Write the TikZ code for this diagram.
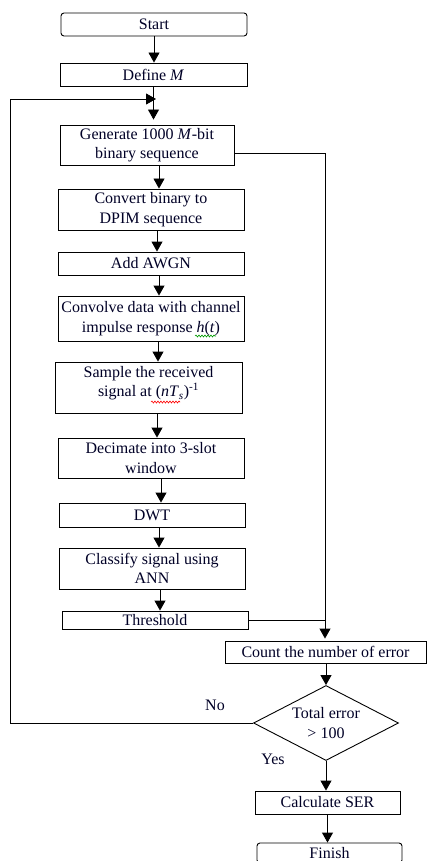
\documentclass[tikz,border=0pt]{standalone}
\usepackage{fontspec}
\setmainfont{Liberation Serif}
\usetikzlibrary{arrows.meta,shapes.geometric,decorations.pathmorphing}
\begin{document}
\begin{tikzpicture}[x=1pt,y=1pt,
  txt/.style={font=\fontsize{16}{19.5}\selectfont, text=black!85!blue},
  box/.style={draw, line width=0.9pt, inner sep=0pt, align=center, txt},
  rbox/.style={box, rounded corners=3pt},
  arr/.style={-{Triangle[width=11pt,length=10pt]}, line width=0.9pt},
  ln/.style={line width=0.9pt},
  lbl/.style={txt, inner sep=0pt},
  wave/.style={line width=0.6pt, decorate, decoration={snake, amplitude=1pt, segment length=3pt}}]
\useasboundingbox (0,0) rectangle (427,-861);
\node[rbox, minimum width=186, minimum height=23] (start) at (154,-24.5) {Start};
\node[box, minimum width=187, minimum height=23] (define) at (153.5,-74.5) {Define \textit{M}};
\node[box, minimum width=174, minimum height=40] (gen) at (147,-145) {Generate 1000 \textit{M}-bit\\binary sequence};
\node[box, minimum width=186, minimum height=41] (conv) at (151,-209.5) {Convert binary to\\DPIM sequence};
\node[box, minimum width=186, minimum height=23] (awgn) at (151,-263.5) {Add AWGN};
\node[box, minimum width=186, minimum height=45] (convolve) at (151,-318.5) {Convolve data with channel\\impulse response \textit{h}(\textit{t})};
\node[box, minimum width=187, minimum height=51] (sample) at (148.5,-387.5) {};
\node[lbl, align=center] (sampletxt) at (148.5,-383) {Sample the received\\signal at (\textit{nT}\textsubscript{\textit{s}})\textsuperscript{-1}};
\node[box, minimum width=186, minimum height=40] (decim) at (151,-458) {Decimate into 3-slot\\window};
\node[box, minimum width=186, minimum height=24] (dwt) at (152,-515) {DWT};
\node[box, minimum width=186, minimum height=41] (classify) at (152,-568.5) {Classify signal using\\ANN};
\node[box, minimum width=186, minimum height=18] (thresh) at (155,-620) {Threshold};
\node[box, minimum width=201, minimum height=22] (count) at (325.5,-652) {Count the number of error};
\node[draw, diamond, aspect=1.93, line width=0.9pt, inner sep=0pt, minimum width=145, minimum height=75, align=center, txt] (dia) at (326,-723) {Total error\\> 100};
\node[box, minimum width=145, minimum height=23] (calc) at (327.5,-802.5) {Calculate SER};
\node[rbox, minimum width=145, minimum height=20] (finish) at (329.5,-853) {Finish};
\node[lbl] (no) at (215,-705) {No};
\node[lbl] (yes) at (273,-759) {Yes};
% spell-check squiggles
\draw[wave, green!60!black] (195,-336) -- (216,-336);
\draw[wave, red] (151,-402) -- (180,-402);
% connectors
\draw[arr] (start.south) -- (start.south |- define.north);
\draw[arr, shorten >=5pt] (define.south) -- (define.south |- gen.north);
\coordinate (jn) at (156,-99);
\coordinate (lp) at (10,-723);
\draw[arr] (dia.west) -- (lp) |- (jn);
\draw[arr] ([xshift=12pt]gen.south) -- ([xshift=12pt]gen.south |- conv.north);
\draw[arr] ([xshift=6pt]conv.south) -- ([xshift=6pt]conv.south |- awgn.north);
\draw[arr] ([xshift=8pt]awgn.south) -- ([xshift=8pt]awgn.south |- convolve.north);
\draw[arr] ([xshift=7pt]convolve.south) -- ([xshift=7pt]convolve.south |- sample.north);
\draw[arr] ([xshift=8.5pt]sample.south) -- ([xshift=8.5pt]sample.south |- decim.north);
\draw[arr] ([xshift=10pt]decim.south) -- ([xshift=10pt]decim.south |- dwt.north);
\draw[arr] ([xshift=7pt]dwt.south) -- ([xshift=7pt]dwt.south |- classify.north);
\draw[arr] ([xshift=8pt]classify.south) -- ([xshift=8pt]classify.south |- thresh.north);
\coordinate (rt) at (325,-153);
\draw[arr, shorten >=2pt] ([yshift=-8pt]gen.east) -- (rt) -- (rt |- count.north);
\draw[ln] (thresh.east) -- (thresh.east -| rt);
\draw[arr] (count.south -| dia.north) -- (dia.north);
\draw[arr] (dia.south) -- (dia.south |- calc.north);
\draw[arr] (calc.south) -- (calc.south |- finish.north);
\end{tikzpicture}
\end{document}
